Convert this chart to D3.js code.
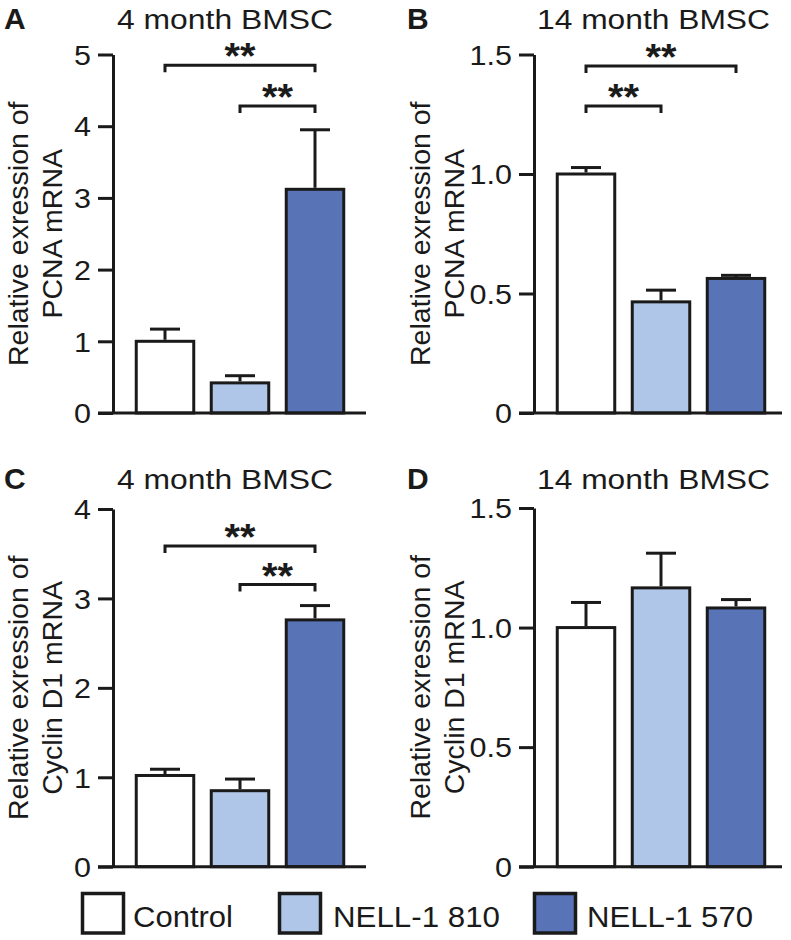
<!DOCTYPE html>
<html>
<head>
<meta charset="utf-8">
<script src="https://cdn.jsdelivr.net/npm/d3@7"></script>
<style>
  html, body { margin: 0; padding: 0; background: #fff; }
  svg text { font-family: "Liberation Sans", Arial, Helvetica, sans-serif; fill: #1a1a1a; }
</style>
</head>
<body>
<svg id="chart" width="791" height="940"></svg>
<script>
// ---------- data ----------
const categories = ["Control", "NELL-1 810", "NELL-1 570"];
const colors = ["#ffffff", "#b0c6e8", "#5874b7"];

const pcna4Mean = [1.0, 0.42, 3.12];
const pcna4Err  = [0.17, 0.10, 0.83];
const pcna14Mean = [1.0, 0.465, 0.563];
const pcna14Err  = [0.027, 0.049, 0.013];
const ccnd4Mean = [1.02, 0.85, 2.76];
const ccnd4Err  = [0.07, 0.13, 0.16];
const ccnd14Mean = [1.0, 1.166, 1.082];
const ccnd14Err  = [0.105, 0.145, 0.035];

const ticks4A = [0, 1, 2, 3, 4, 5];
const ticks4C = [0, 1, 2, 3, 4];
const ticks14 = [0, 0.5, 1.0, 1.5];
const tickLabels14 = ["0", "0.5", "1.0", "1.5"];

// significance brackets: [from, to, level]
const sigA = [["Control", "NELL-1 570", 4.85], ["NELL-1 810", "NELL-1 570", 4.28]];
const sigB = [["Control", "NELL-1 570", 1.452], ["Control", "NELL-1 810", 1.284]];
const sigC = [["Control", "NELL-1 570", 3.585], ["NELL-1 810", "NELL-1 570", 3.155]];
const sigD = [];

// ---------- drawing ----------
const svg = d3.select("#chart");
const INK = "#1a1a1a";

function panel(cfg) {
  const g = svg.append("g");
  const y = d3.scaleLinear().domain([0, cfg.max]).range([cfg.yBot, cfg.yTop]);
  const x = d3.scalePoint().domain(categories).range([cfg.axisX + 52, cfg.axisX + 202]);
  const bw = 57.5;

  // y axis
  const axis = d3.axisLeft(y).tickValues(cfg.ticks).tickSize(15).tickSizeOuter(0).tickPadding(7)
    .tickFormat((d, i) => cfg.tickLabels ? cfg.tickLabels[i] : String(d));
  const ag = g.append("g").attr("transform", `translate(${cfg.axisX},0)`).call(axis);
  ag.select(".domain").attr("stroke", INK).attr("stroke-width", 3);
  ag.selectAll(".tick line").attr("stroke", INK).attr("stroke-width", 3);
  ag.selectAll(".tick text").attr("font-size", 27).attr("fill", INK).attr("dy", "0.36em")
    .each(function () {
      const w = this.getComputedTextLength();
      d3.select(this).attr("textLength", w * 1.13).attr("lengthAdjust", "spacingAndGlyphs");
    });

  // bars
  g.selectAll("rect.bar").data(categories).join("rect")
    .attr("class", "bar")
    .attr("x", d => x(d) - bw / 2)
    .attr("width", bw)
    .attr("y", (d, i) => y(cfg.mean[i]))
    .attr("height", (d, i) => y(0) - y(cfg.mean[i]))
    .attr("fill", (d, i) => colors[i])
    .attr("stroke", INK).attr("stroke-width", 3);

  // error bars
  g.selectAll("line.err").data(categories).join("line")
    .attr("class", "err")
    .attr("x1", d => x(d)).attr("x2", d => x(d))
    .attr("y1", (d, i) => y(cfg.mean[i]) - 1.5)
    .attr("y2", (d, i) => y(cfg.mean[i] + cfg.err[i]))
    .attr("stroke", INK).attr("stroke-width", 3);
  g.selectAll("line.cap").data(categories).join("line")
    .attr("class", "cap")
    .attr("x1", d => x(d) - 15).attr("x2", d => x(d) + 15)
    .attr("y1", (d, i) => y(cfg.mean[i] + cfg.err[i]))
    .attr("y2", (d, i) => y(cfg.mean[i] + cfg.err[i]))
    .attr("stroke", INK).attr("stroke-width", 3);

  // x baseline
  g.append("line")
    .attr("x1", cfg.axisX - 15).attr("x2", cfg.xEnd)
    .attr("y1", y(0)).attr("y2", y(0))
    .attr("stroke", INK).attr("stroke-width", 3);

  // significance brackets
  cfg.sig.forEach(s => {
    const x1 = x(s[0]), x2 = x(s[1]), yy = y(s[2]);
    g.append("path")
      .attr("d", `M${x1},${yy + 7}V${yy}H${x2}V${yy + 7}`)
      .attr("fill", "none").attr("stroke", INK).attr("stroke-width", 3);
    g.append("text")
      .attr("x", (x1 + x2) / 2).attr("y", yy + 4)
      .attr("text-anchor", "middle").attr("font-size", 36).attr("font-weight", "bold")
      .attr("textLength", 31).attr("lengthAdjust", "spacingAndGlyphs")
      .text("**");
  });

  // title
  g.append("text")
    .attr("x", cfg.titleX).attr("y", cfg.titleY)
    .attr("text-anchor", "middle").attr("font-size", 27)
    .attr("textLength", cfg.titleW).attr("lengthAdjust", "spacingAndGlyphs")
    .text(cfg.title);

  // panel letter
  g.append("text")
    .attr("x", cfg.letterX).attr("y", cfg.titleY)
    .attr("font-size", 30).attr("font-weight", "bold")
    .text(cfg.letter);

  // y label
  const cy = (cfg.yTop + cfg.yBot) / 2;
  const lg = g.append("g").attr("transform", `translate(${cfg.labelX},${cy}) rotate(-90)`);
  lg.append("text").attr("x", 0).attr("y", 0).attr("text-anchor", "middle")
    .attr("font-size", 28.5).text("Relative exression of");
  lg.append("text").attr("x", 0).attr("y", 34).attr("text-anchor", "middle")
    .attr("font-size", 28.5).text(cfg.gene);
}

panel({ letter: "A", letterX: 4, title: "4 month BMSC", titleX: 225, titleY: 29, titleW: 216,
  axisX: 113, xEnd: 366, yTop: 54.5, yBot: 413, max: 5, ticks: ticks4A,
  mean: pcna4Mean, err: pcna4Err, sig: sigA, labelX: 28, gene: "PCNA mRNA" });
panel({ letter: "B", letterX: 407, title: "14 month BMSC", titleX: 653.5, titleY: 29, titleW: 233,
  axisX: 534, xEnd: 782, yTop: 54.5, yBot: 413, max: 1.5, ticks: ticks14, tickLabels: tickLabels14,
  mean: pcna14Mean, err: pcna14Err, sig: sigB, labelX: 430, gene: "PCNA mRNA" });
panel({ letter: "C", letterX: 4, title: "4 month BMSC", titleX: 225, titleY: 489, titleW: 216,
  axisX: 113, xEnd: 366, yTop: 509, yBot: 866.7, max: 4, ticks: ticks4C,
  mean: ccnd4Mean, err: ccnd4Err, sig: sigC, labelX: 28, gene: "Cyclin D1 mRNA" });
panel({ letter: "D", letterX: 407, title: "14 month BMSC", titleX: 653.5, titleY: 489, titleW: 233,
  axisX: 534, xEnd: 782, yTop: 508, yBot: 866.7, max: 1.5, ticks: ticks14, tickLabels: tickLabels14,
  mean: ccnd14Mean, err: ccnd14Err, sig: sigD, labelX: 430, gene: "Cyclin D1 mRNA" });

// legend
const legendBoxX = [82.5, 279.5, 534.5];
const legendTextX = [133, 333, 587];
const legendTextW = [100, 167, 166];
const lg = svg.append("g");
categories.forEach((c, i) => {
  lg.append("rect").attr("x", legendBoxX[i]).attr("y", 893.5).attr("width", 41).attr("height", 39.5)
    .attr("fill", colors[i]).attr("stroke", INK).attr("stroke-width", 3.5);
  lg.append("text").attr("x", legendTextX[i]).attr("y", 927).attr("font-size", 29)
    .attr("textLength", legendTextW[i]).attr("lengthAdjust", "spacingAndGlyphs").text(c);
});
</script>
</body>
</html>
